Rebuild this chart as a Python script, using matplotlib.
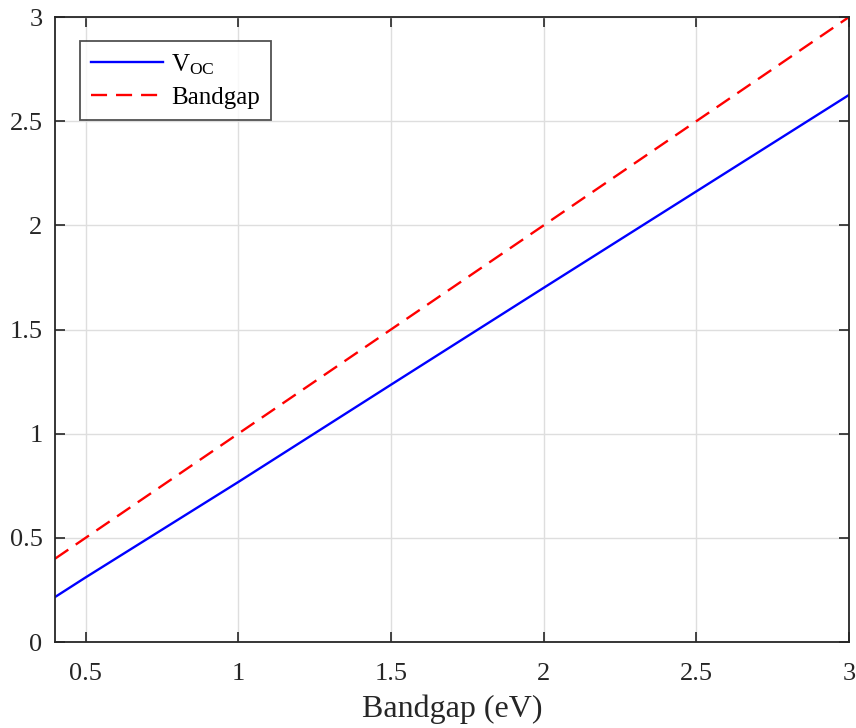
import matplotlib
matplotlib.use("Agg")
import matplotlib.pyplot as plt

bandgap = [0.4, 0.5, 1.0, 1.5, 2.0, 2.5, 3.0]
voc = [0.216, 0.31, 0.768, 1.235, 1.70, 2.163, 2.626]
xticks = [0.5, 1, 1.5, 2, 2.5, 3]
yticks = [0, 0.5, 1, 1.5, 2, 2.5, 3]

plt.rcParams['font.family'] = ['Liberation Serif', 'DejaVu Serif']
plt.rcParams['mathtext.fontset'] = 'custom'
plt.rcParams['mathtext.rm'] = 'Liberation Serif'
plt.rcParams['mathtext.it'] = 'Liberation Serif:italic'
fig = plt.figure(figsize=(8.56, 7.28), dpi=100)
ax = fig.add_axes([0.0643, 0.1181, 0.9275, 0.8585])

ax.plot(bandgap, voc, color='#0000ff', lw=1.7, label='V$_{\\mathrm{OC}}$')
ax.plot(bandgap, bandgap, color='#ff0000', lw=1.7, ls=(0, (6.8, 3.8)), label='Bandgap')

ax.set_xlim(0.4, 3)
ax.set_ylim(0, 3)
ax.set_xticks(xticks)
ax.set_xticklabels([f"{t:g}" for t in xticks])
ax.set_yticks(yticks)
ax.set_yticklabels([f"{t:g}" for t in yticks])
ax.tick_params(direction='in', top=True, right=True, labelsize=19, length=7, width=1.2, colors='#262626')
ax.tick_params(axis='x', pad=15)
ax.tick_params(axis='y', pad=9)
ax.grid(True, color='#dedede', lw=1.0)
ax.set_axisbelow(True)
for s in ax.spines.values():
    s.set_linewidth(1.3)
    s.set_color('#262626')
ax.set_xlabel('Bandgap (eV)', fontsize=23, color='#262626', labelpad=7)

leg = ax.legend(loc='upper left', bbox_to_anchor=(0.031, 0.962), fontsize=18, frameon=True,
                fancybox=False, edgecolor='#262626', handlelength=2.9, borderpad=0.45,
                labelspacing=0.4, handletextpad=0.3, borderaxespad=0)
leg.get_frame().set_linewidth(1.3)

fig.savefig('out.png', dpi=100)
